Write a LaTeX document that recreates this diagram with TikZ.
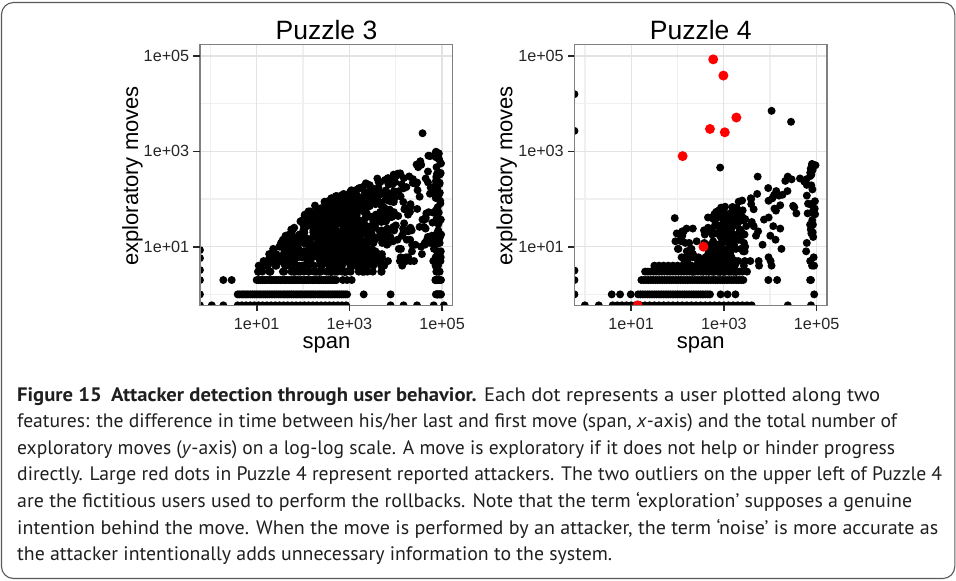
\documentclass[tikz,border=0pt]{standalone}
\usepackage{fontspec}
\usepackage{graphicx}
\setmainfont{PT Sans}
\newfontfamily\plotfont{Liberation Sans}

% caption lines are set on their own and stretched to their measure
\newsavebox\capbox
\newcommand\fitline[2]{%
  \sbox\capbox{#2}%
  \pgfmathsetmacro\capscale{#1/\wd\capbox}%
  \scalebox{\capscale}[1]{\usebox\capbox}}

\tikzset{
  panelframe/.style={draw=black!50, line width=1.3pt},
  majorgrid/.style={draw=black!11, line width=1.1pt},
  minorgrid/.style={draw=black!6, line width=1.6pt},
  axtick/.style={draw=black!85, line width=1.6pt},
  ticklabel/.style={font=\plotfont\fontsize{16.2}{18}\selectfont, inner sep=0pt, text=black!85},
  axistitle/.style={font=\plotfont\fontsize{22}{26}\selectfont, inner sep=0pt},
  paneltitle/.style={font=\plotfont\fontsize{26.5}{30}\selectfont, inner sep=0pt},
  captext/.style={font=\fontsize{19.5}{24}\selectfont, inner sep=0pt, anchor=base west, text=black!88},
  user/.style={fill=black},
  attacker/.style={fill=red},
  frame/.style={draw=black!65, line width=1.1pt, rounded corners=12pt},
}

% one dot per user, in (log10 span, log10 moves)
\newcommand\usr[2]{\fill[user] (#1,#2) circle (4pt);}
\newcommand\atk[2]{\fill[attacker] (#1,#2) circle (5pt);}
% integer move counts fall on discrete rows
\newcommand\quantusr{%
  \pgfmathsetmacro\mq{log10(max(1,round(10^\mv)))}%
  \usr{\sv}{\mq}}

% grid of a log-log panel: x from 1e-0.225 to 1e5.225
\newcommand\panelgrid{%
  \foreach \g in {0,2,4}{
    \draw[minorgrid] (\g,-0.23) -- (\g,5.245);
    \draw[minorgrid] (-0.225,\g) -- (5.225,\g);}
  \foreach \g in {1,3,5}{
    \draw[majorgrid] (\g,-0.23) -- (\g,5.245);
    \draw[majorgrid] (-0.225,\g) -- (5.225,\g);}}

% frame, ticks and tick labels of a panel
\newcommand\panelaxes[1]{%
  \draw[panelframe] (-0.225,-0.23) rectangle (5.225,5.245);
  \foreach \g/\lab in {1/1e+01,3/1e+03,5/1e+05}{
    \draw[axtick] (-0.225,\g) -- ++(-6.5pt,0);
    \node[ticklabel, anchor=east] (ylab#1\g) at ([xshift=-10.5pt]-0.225,\g) {\lab};
    \draw[axtick] (\g,-0.23) -- ++(0,-6pt);
    \node[ticklabel, anchor=base] (xlab#1\g) at ([yshift=-23.7pt]\g,-0.23) {\lab};
  }}

\begin{document}
\begin{tikzpicture}[x=1pt, y=-1pt]
\useasboundingbox (0,0) rectangle (956,581);
\draw[frame] (1.5,2.5) rectangle (954.8,578.5);

% ---------------- Puzzle 3 ----------------
\begin{scope}[shift={(210.37pt,-294.37pt)}, x=46.33pt, y=47.67pt]
  \panelgrid
  \begin{scope}
    \clip (-0.225,-0.23) rectangle (5.225,5.245);
    \pgfmathsetseed{2718}
    % main diagonal cloud
    \foreach \i in {1,...,650}{
      \pgfmathsetmacro\sv{1.0+1.6*(rnd+rnd)}
      \pgfmathsetmacro\mt{min(0.45*\sv+0.85,1.1*\sv-0.55)}
      \pgfmathsetmacro\mv{0.42+(\mt-0.42)*rnd^0.9}
      \quantusr}
    % long sessions
    \foreach \i in {1,...,220}{
      \pgfmathsetmacro\sv{2.8+2.1*rnd}
      \pgfmathsetmacro\mt{0.45*\sv+0.8}
      \pgfmathsetmacro\mv{0.45+(\mt-0.45)*rnd^0.8}
      \quantusr}
    % sessions capped at the longest span
    \foreach \i in {1,...,80}{
      \pgfmathsetmacro\sv{4.86+0.12*rnd}
      \pgfmathsetmacro\mv{3.0*rnd^0.8}
      \quantusr}
    % one and two exploratory moves
    \foreach \s in {0.59,0.63,...,2.96,3.31,3.89,4.9} {\usr{\s}{0}}
    \foreach \s in {0.28,0.46,1.0,1.04,...,2.73,2.86,2.95,3.05,4.86,4.93} {\usr{\s}{0.30103}}
    % zero moves / zero span sit on the panel edges
    \foreach \s in {-0.225,0.03,0.28,0.59,0.68,...,2.96,3.89,4.17,4.46,4.82,5.04} {\usr{\s}{-0.23}}
    \foreach \m in {0.93,0.76,0.51,0.30,0} {\usr{-0.225}{\m}}
    \usr{4.58}{3.38}
  \end{scope}
  \panelaxes{a}
\end{scope}
\node[paneltitle, anchor=base] (titleA) at (326.5,39) {Puzzle 3};
\node[axistitle, anchor=base] (xtitleA) at (326.5,348.3) {span};
\node[axistitle, anchor=base, rotate=90] (ytitleA) at (138,176) {exploratory moves};

% ---------------- Puzzle 4 ----------------
\begin{scope}[shift={(584.87pt,-294.37pt)}, x=46.33pt, y=47.67pt]
  \panelgrid
  \begin{scope}
    \clip (-0.225,-0.23) rectangle (5.225,5.245);
    \pgfmathsetseed{31415}
    \foreach \i in {1,...,170}{
      \pgfmathsetmacro\sv{2.55+0.5*(rnd+rnd)}
      \pgfmathsetmacro\mt{0.5*\sv+0.35}
      \pgfmathsetmacro\mv{0.45+(\mt-0.45)*rnd}
      \quantusr}
    \foreach \i in {1,...,140}{
      \pgfmathsetmacro\sv{1.9+3.05*rnd}
      \pgfmathsetmacro\mt{0.5*\sv+0.3}
      \pgfmathsetmacro\mv{0.45+(\mt-0.45)*rnd^0.9}
      \quantusr}
    \foreach \i in {1,...,28}{
      \pgfmathsetmacro\sv{4.85+0.13*rnd}
      \pgfmathsetmacro\mv{2.8*rnd^0.8}
      \quantusr}
    \foreach \s in {0.58,0.76,0.99,1.15,1.2,...,2.72,2.93,3.08,3.25,4.95} {\usr{\s}{0}}
    \foreach \s in {1.22,1.27,...,3.45,3.96,4.15,4.88} {\usr{\s}{0.30103}}
    \foreach \s in {1.3,1.36,...,3.4} {\usr{\s}{0.47712}}
    \foreach \s in {1.5,1.6,...,3.3} {\usr{\s}{0.60206}}
    \foreach \s in {0.0,0.3,0.6,0.7,...,3.6,4.38,4.88} {\usr{\s}{-0.23}}
    \foreach \m in {4.2,3.43,0.5,0.3,0} {\usr{-0.225}{\m}}
    \usr{4.03}{3.85}
    \usr{4.45}{3.62}
    \usr{2.92}{2.66}
    \usr{3.73}{2.47}
    \usr{1.94}{1.6}
    % reported attackers
    \atk{2.77}{4.93}
    \atk{2.99}{4.59}
    \atk{3.27}{3.71}
    \atk{2.70}{3.47}
    \atk{3.02}{3.40}
    \atk{2.11}{2.90}
    \atk{2.56}{1.0}
    \atk{1.14}{-0.23}
  \end{scope}
  \panelaxes{b}
\end{scope}
\node[paneltitle, anchor=base] (titleB) at (700.7,39) {Puzzle 4};
\node[axistitle, anchor=base] (xtitleB) at (700.7,348.3) {span};
\node[axistitle, anchor=base, rotate=90] (ytitleB) at (512.3,176) {exploratory moves};

% ---------------- caption ----------------
\node[captext] (cap1) at (17,401) {\fitline{863}{\textbf{Figure 15\hspace{0.45em}Attacker detection through user behavior.} Each dot represents a user plotted along two}};
\node[captext] (cap2) at (17,427.6) {\fitline{880}{features: the difference in time between his/her last and first move (span, \textit{x}-axis) and the total number of}};
\node[captext] (cap3) at (17,454.2) {\fitline{878}{exploratory moves (\textit{y}-axis) on a log-log scale. A move is exploratory if it does not help or hinder progress}};
\node[captext] (cap4) at (17,480.8) {\fitline{925}{directly. Large red dots in Puzzle 4 represent reported attackers. The two outliers on the upper left of Puzzle 4}};
\node[captext] (cap5) at (17,507.4) {\fitline{895}{are the fictitious users used to perform the rollbacks. Note that the term ‘exploration’ supposes a genuine}};
\node[captext] (cap6) at (17,534) {\fitline{921}{intention behind the move. When the move is performed by an attacker, the term ‘noise’ is more accurate as}};
\node[captext] (cap7) at (17,560.6) {\fitline{595}{the attacker intentionally adds unnecessary information to the system.}};
\end{tikzpicture}
\end{document}
